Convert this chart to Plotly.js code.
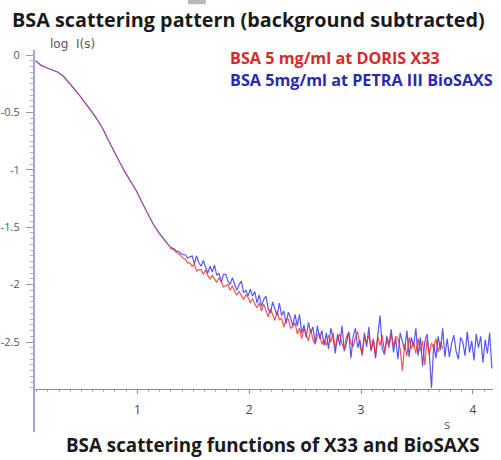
<!DOCTYPE html>
<html>
<head>
<meta charset="utf-8">
<script src="https://cdn.plot.ly/plotly-3.0.1.min.js"></script>
<style>
  html, body { margin: 0; padding: 0; background: #fff; }
  #chart { width: 501px; height: 460px; }
</style>
</head>
<body>
<div id="chart"></div>
<script>
// Low-angle part of the curve (both instruments coincide here), s = 0.09 ... 1.29
const lowAngleS0 = 0.09;
const lowAngleDs = 0.05;
const lowAngleLogI = [-0.05, -0.09, -0.11, -0.13, -0.15, -0.185, -0.24, -0.30, -0.36, -0.42,
  -0.49, -0.56, -0.64, -0.74, -0.84, -0.93, -1.02, -1.10, -1.18, -1.28,
  -1.38, -1.47, -1.545, -1.61, -1.67];

// Wide-angle part, s = 1.29 ... (step 0.02)
const wideAngleS0 = 1.29;
const wideAngleDs = 0.02;

// BSA 5 mg/ml, DORIS X33 (s up to 3.73)
const dorisLogI = [
  -1.68, -1.69, -1.70, -1.72, -1.73, -1.75, -1.77, -1.78, -1.81, -1.81,
  -1.84, -1.82, -1.88, -1.87, -1.87, -1.91, -1.87, -1.92, -1.95, -1.92,
  -1.95, -1.98, -1.94, -1.97, -2.02, -2.01, -2.00, -2.05, -2.01, -2.06,
  -2.09, -2.06, -2.09, -2.13, -2.09, -2.11, -2.16, -2.12, -2.17, -2.20,
  -2.16, -2.23, -2.17, -2.23, -2.28, -2.21, -2.26, -2.31, -2.23, -2.31,
  -2.29, -2.37, -2.30, -2.30, -2.38, -2.37, -2.33, -2.43, -2.38, -2.47,
  -2.38, -2.43, -2.49, -2.39, -2.48, -2.52, -2.44, -2.43, -2.52, -2.48,
  -2.53, -2.44, -2.50, -2.42, -2.55, -2.47, -2.43, -2.52, -2.56, -2.45,
  -2.42, -2.51, -2.54, -2.46, -2.41, -2.53, -2.60, -2.46, -2.51, -2.44,
  -2.57, -2.47, -2.62, -2.45, -2.53, -2.44, -2.59, -2.48, -2.55, -2.43,
  -2.54, -2.45, -2.47, -2.56, -2.75, -2.52, -2.62, -2.46, -2.56, -2.50,
  -2.60, -2.47, -2.58, -2.49, -2.70, -2.48, -2.61, -2.51, -2.55, -2.47,
  -2.59, -2.50, -2.56
];

// BSA 5 mg/ml, PETRA III BioSAXS (s up to 4.17)
const petraLogI = [
  -1.67, -1.68, -1.69, -1.71, -1.71, -1.73, -1.74, -1.74, -1.77, -1.76,
  -1.75, -1.82, -1.75, -1.81, -1.84, -1.79, -1.84, -1.90, -1.84, -1.89,
  -1.83, -1.92, -1.90, -1.98, -1.91, -1.91, -1.97, -2.00, -1.94, -2.00,
  -2.05, -2.00, -1.97, -2.07, -2.05, -2.10, -2.04, -2.10, -2.06, -2.16,
  -2.09, -2.19, -2.13, -2.10, -2.21, -2.25, -2.15, -2.21, -2.27, -2.16,
  -2.27, -2.23, -2.34, -2.24, -2.29, -2.36, -2.26, -2.36, -2.26, -2.42,
  -2.35, -2.46, -2.33, -2.42, -2.37, -2.51, -2.36, -2.47, -2.40, -2.53,
  -2.42, -2.56, -2.38, -2.46, -2.60, -2.43, -2.53, -2.36, -2.58, -2.51,
  -2.41, -2.64, -2.45, -2.38, -2.55, -2.48, -2.62, -2.42, -2.54, -2.37,
  -2.58, -2.48, -2.64, -2.44, -2.27, -2.56, -2.61, -2.45, -2.52, -2.39,
  -2.59, -2.47, -2.65, -2.42, -2.49, -2.57, -2.40, -2.63, -2.46, -2.54,
  -2.38, -2.62, -2.46, -2.71, -2.50, -2.43, -2.60, -2.90, -2.52, -2.64,
  -2.45, -2.57, -2.38, -2.63, -2.47, -2.63, -2.51, -2.44, -2.58, -2.65,
  -2.46, -2.50, -2.62, -2.41, -2.59, -2.49, -2.66, -2.43, -2.55, -2.45,
  -2.68, -2.48, -2.60, -2.42, -2.73
];

const yTickVals = [0, -0.5, -1, -1.5, -2, -2.5];
const yTickText = ['0', '-0.5', '-1', '-1.5', '-2', '-2.5'];

const RED = '#ef2b2b';
const BLUE = '#3a3af0';

function seg(y, s0, ds, color, opacity) {
  return {
    type: 'scatter', mode: 'lines', y: y, x0: s0, dx: ds,
    line: { color: color, width: 1.2 }, opacity: opacity,
    hoverinfo: 'skip', showlegend: false
  };
}

const data = [
  seg(lowAngleLogI, lowAngleS0, lowAngleDs, BLUE, 0.8),
  seg(petraLogI, wideAngleS0, wideAngleDs, BLUE, 0.85),
  seg(lowAngleLogI, lowAngleS0, lowAngleDs, RED, 0.45),
  seg(dorisLogI, wideAngleS0, wideAngleDs, RED, 0.8)
];

// minor tick positions on the log I axis, down to where the s axis crosses
const yMinor = [];
for (let v = 0; v >= -2.9; v -= 0.05) yMinor.push(+v.toFixed(2));

const layout = {
  width: 501, height: 460,
  margin: { l: 35, r: 8, t: 50, b: 28 },
  paper_bgcolor: '#fff', plot_bgcolor: '#fff',
  font: { family: 'Open Sans, sans-serif', color: '#333' },
  title: {
    text: 'BSA scattering pattern (background subtracted)',
    font: { family: 'Open Sans', size: 19.8, color: '#1a1a1a', weight: 'bold' },
    xref: 'container', yref: 'container', x: 12 / 501, xanchor: 'left',
    y: 1 - 20 / 460, yanchor: 'middle'
  },
  xaxis: {
    range: [0.085, 4.18],
    anchor: 'free', position: 0.1126,
    showline: true, linecolor: '#8c8c8c', linewidth: 1,
    ticks: 'outside', ticklen: 4, tickcolor: '#8c8c8c',
    tick0: 0, dtick: 1,
    tickfont: { family: 'Open Sans', size: 12, color: '#444' },
    ticklabelstandoff: 6,
    minor: { tick0: 0, dtick: 0.1, ticks: 'outside', ticklen: 2, tickcolor: '#aaa', showgrid: false },
    showgrid: false, zeroline: false
  },
  yaxis: {
    range: [-3.284, 0.044],
    showline: true, linecolor: '#a6a6d6', linewidth: 2,
    ticks: 'outside', ticklen: 7, tickcolor: '#9a9a9a',
    tickmode: 'array', tickvals: yTickVals, ticktext: yTickText,
    tickfont: { family: 'Open Sans', size: 11, color: '#555' },
    ticklabelstandoff: 4,
    minor: { tickmode: 'array', tickvals: yMinor, ticks: 'outside', ticklen: 3, tickcolor: '#b0b0c8', showgrid: false },
    showgrid: false, zeroline: false
  },
  shapes: [
    { type: 'rect', xref: 'paper', yref: 'paper', x0: 0.334, x1: 0.373, y0: 1.120, y1: 1.131,
      line: { width: 0 }, fillcolor: '#b8b8b8', layer: 'above' }
  ],
  annotations: [
    { text: 'log  I(s)', xref: 'paper', yref: 'paper', x: 0.028, y: 1.0157,
      xanchor: 'left', yanchor: 'middle', showarrow: false,
      font: { family: 'DejaVu Sans', size: 12, color: '#555' } },
    { text: 'BSA 5 mg/ml at DORIS X33', xref: 'paper', yref: 'paper', x: 0.421, y: 0.979,
      xanchor: 'left', yanchor: 'middle', showarrow: false,
      font: { family: 'Open Sans', size: 16.2, color: '#d42a2a', weight: 'bold' } },
    { text: 'BSA 5mg/ml at PETRA III BioSAXS', xref: 'paper', yref: 'paper', x: 0.421, y: 0.9215,
      xanchor: 'left', yanchor: 'middle', showarrow: false,
      font: { family: 'Open Sans', size: 16.2, color: '#2a2aaa', weight: 'bold' } },
    { text: 's', xref: 'paper', yref: 'paper', x: 0.8996, y: 0.021,
      xanchor: 'center', yanchor: 'middle', showarrow: false,
      font: { family: 'Open Sans', size: 13, color: '#555' } },
    { text: 'BSA scattering functions of X33 and BioSAXS', xref: 'paper', yref: 'paper',
      x: 0.064, y: -0.034, xanchor: 'left', yanchor: 'middle', showarrow: false,
      font: { family: 'Open Sans', size: 18.8, color: '#1a1a1a', weight: 'bold' } }
  ]
};

Plotly.newPlot('chart', data, layout, { staticPlot: true, displayModeBar: false });
</script>
</body>
</html>
